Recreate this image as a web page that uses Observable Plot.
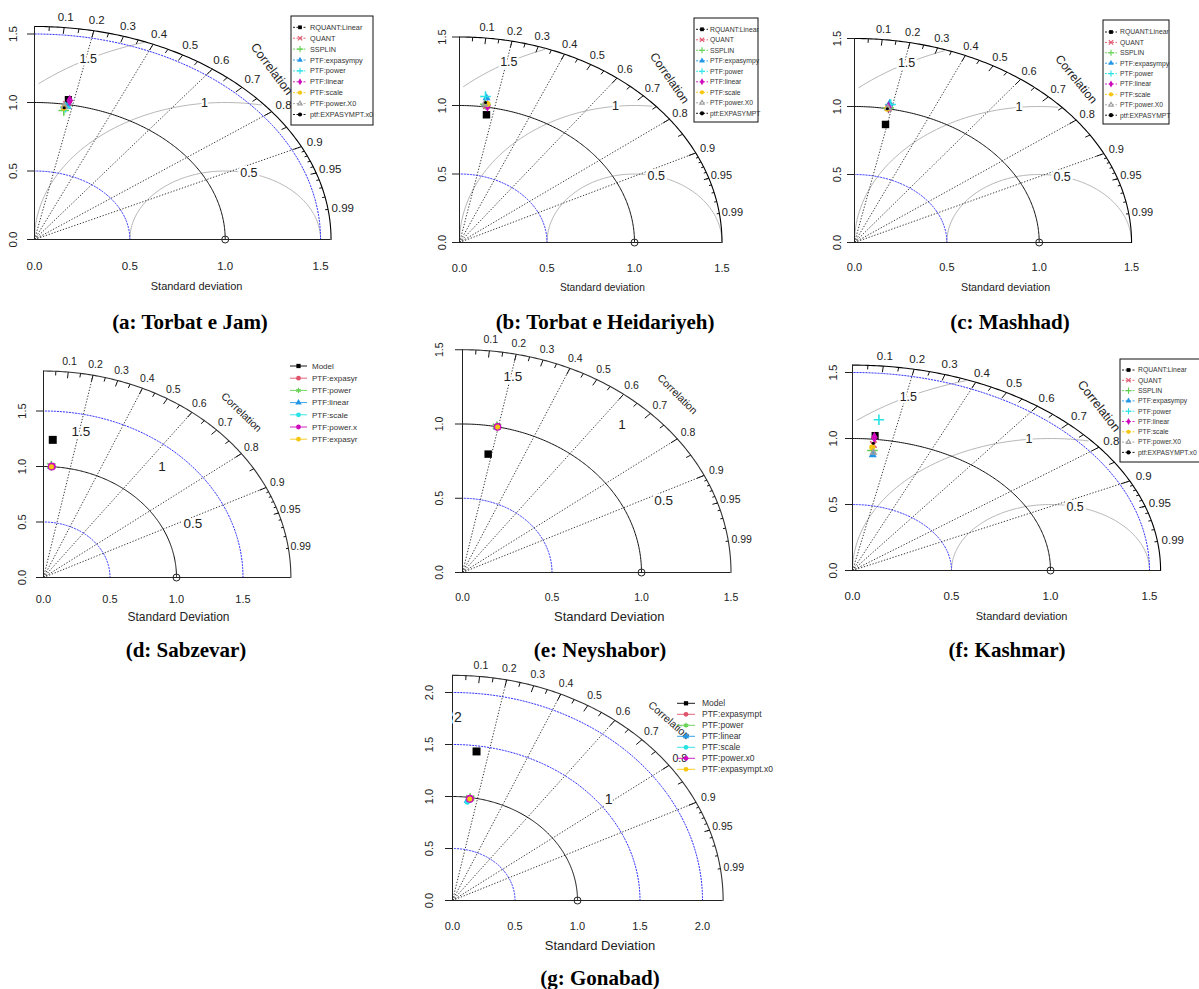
<!DOCTYPE html>
<html><head><meta charset="utf-8">
<script src="https://cdn.jsdelivr.net/npm/d3@7"></script>
<script src="https://cdn.jsdelivr.net/npm/@observablehq/plot@0.6"></script>
<style>
body{margin:0;background:#fff}
#fig{position:relative;width:1199px;height:989px;overflow:hidden;font-family:"Liberation Sans",Arial,sans-serif;background:#fff}
.panel{position:absolute}
.cap{position:absolute;font-family:"Liberation Serif","Times New Roman",serif;font-weight:bold;font-size:21px;transform:translate(-50%,-50%);white-space:nowrap;color:#000}
</style>
</head><body><div id="fig"></div>
<script>
// ---------------- data ----------------
const modelsA = ["RQUANT:Linear","QUANT","SSPLIN","PTF:expasympy","PTF:power","PTF:linear","PTF:scale","PTF:power.X0","ptf:EXPASYMPT.x0"];
const sdA  = [1.037, 1.000, 0.954, 0.986, 0.980, 1.032, 0.973, 0.984, 0.975];
const corA = [0.171, 0.168, 0.161, 0.174, 0.166, 0.179, 0.158, 0.160, 0.160];

const modelsB = ["RQUANT:Linear","QUANT","SSPLIN","PTF:expasympy","PTF:power","PTF:linear","PTF:scale","PTF:power.X0","ptf:EXPASYMPT"];
const sdB  = [0.945, 1.010, 1.020, 1.067, 1.076, 1.010, 1.024, 1.020, 1.033];
const corB = [0.163, 0.152, 0.145, 0.145, 0.138, 0.158, 0.156, 0.140, 0.144];

const modelsC = ["RQUANT:Linear","QUANT","SSPLIN","PTF:expasympy","PTF:power","PTF:linear","PTF:scale","PTF:power.X0","ptf:EXPASYMPT"];
const sdC  = [0.884, 1.010, 1.007, 1.040, 1.033, 1.010, 0.999, 1.005, 1.000];
const corC = [0.190, 0.182, 0.183, 0.183, 0.189, 0.182, 0.177, 0.180, 0.178];

const modelsD = ["Model","PTF:expasyr","PTF:power","PTF:linear","PTF:scale","PTF:power.x","PTF:expasyr"];
const sdD  = [1.242, 1.002, 1.008, 1.000, 1.000, 1.002, 1.000];
const corD = [0.056, 0.060, 0.058, 0.060, 0.060, 0.062, 0.060];

const modelsE = ["Model","PTF:expasyr","PTF:power","PTF:linear","PTF:scale","PTF:power.x","PTF:expasyr"];
const sdE  = [0.810, 1.000, 1.003, 0.998, 0.998, 1.000, 1.000];
const corE = [0.177, 0.194, 0.192, 0.194, 0.194, 0.196, 0.196];

const modelsF = ["RQUANT:Linear","QUANT","SSPLIN","PTF:expasympy","PTF:power","PTF:linear","PTF:scale","PTF:power.X0","ptf:EXPASYMPT.x0"];
const sdF  = [1.029, 0.960, 0.915, 0.882, 1.150, 1.014, 0.939, 0.900, 0.970];
const corF = [0.111, 0.110, 0.110, 0.116, 0.116, 0.109, 0.106, 0.117, 0.108];

const modelsG = ["Model","PTF:expasympt","PTF:power","PTF:linear","PTF:scale","PTF:power.x0","PTF:expasympt.x0"];
const sdG  = [1.446, 0.988, 0.995, 0.970, 0.952, 0.988, 0.985];
const corG = [0.133, 0.140, 0.142, 0.125, 0.124, 0.140, 0.140];

const colors9  = ["#000000","#DF536B","#61D04F","#2297E6","#28E2E5","#CD0BBC","#F5C710","#9E9E9E","#000000"];
const symbols9 = ["square","times","plus","triangle","plus","diamond","circle","triangle2","circle"];
const colors7  = ["#000000","#DF536B","#61D04F","#2297E6","#28E2E5","#CD0BBC","#F5C710"];
const symbols7 = ["square","circle","asterisk","triangle","circle","circle","circle"];

const corLines   = [0.2, 0.4, 0.6, 0.8, 0.9];
const corLabels  = [0.1, 0.2, 0.3, 0.4, 0.5, 0.6, 0.7, 0.8, 0.9, 0.95, 0.99];
const bigTicks   = [0.1, 0.2, 0.3, 0.4, 0.5, 0.6, 0.7, 0.8, 0.9];
const medTicks   = [0.05, 0.15, 0.25, 0.35, 0.45, 0.55, 0.65, 0.75, 0.85, 0.95];
const smlTicks   = [0.91, 0.92, 0.93, 0.94, 0.95, 0.96, 0.97, 0.98, 0.99];
const sdTicks15  = [0, 0.5, 1, 1.5];
const sdTicks20  = [0, 0.5, 1, 1.5, 2];
const gamma3     = [0.5, 1, 1.5];
const gamma2     = [1, 2];
const refSd      = 1;

// ---------------- layout ----------------
const panels = [
 {id:"a", models:modelsA, sd:sdA, cor:corA, colors:colors9, symbols:symbols9, sizes:[4,3,3.5,3,3.5,3.5,3,2.5,1.5],
  L:0,T:0,W:390,H:300, ox:34, oy:239, sx:190.7, sy:137, maxsd:1.555, ticks:sdTicks15, blue:[0.5,1.5], gamma:gamma3, gammaLines:true,
  tickFs:11.5, tickDy:27, tickDx:-21, corFs:11.5, corAngle:53, corWordFs:12.5, gFs:12.5, xlab:"Standard deviation", xlabX:0.85, xlabDy:47, xlabFs:11, outer:"#000",
  legend:{box:[291,16,373,125], y0:27.3, dy:10.9, lx0:293, lx1:307, tx:310, fs:7.3, dashed:true},
  cap:"(a: Torbat e Jam)", capX:190, capY:322},
 {id:"b", models:modelsB, sd:sdB, cor:corB, colors:colors9, symbols:symbols9, sizes:[4.2,3,3.5,3,3.5,3.5,3,2.5,1.5],
  L:400,T:0,W:390,H:300, ox:459, oy:242, sx:175, sy:137, maxsd:1.5, ticks:sdTicks15, blue:[0.5], gamma:gamma3, gammaLines:true,
  tickFs:11, tickDy:26, tickDx:-17, corFs:11, corAngle:55, corWordFs:12, gFs:12.5, xlab:"Standard deviation", xlabX:0.817, xlabDy:45, xlabFs:10.2, outer:"#000",
  legend:{box:[694,18,758,122], y0:29.3, dy:10.5, lx0:696, lx1:708, tx:710, fs:6.8, dashed:true},
  cap:"(b: Torbat e Heidariyeh)", capX:605, capY:322},
 {id:"c", models:modelsC, sd:sdC, cor:corC, colors:colors9, symbols:symbols9, sizes:[4.2,3,3.5,3,3.5,3.5,3,2.5,1.5],
  L:790,T:0,W:409,H:300, ox:854, oy:242, sx:184.7, sy:136, maxsd:1.5, ticks:sdTicks15, blue:[0.5], gamma:gamma3, gammaLines:true,
  tickFs:11, tickDy:25, tickDx:-17, corFs:11, corAngle:51, corWordFs:12, gFs:12.5, xlab:"Standard deviation", xlabX:0.818, xlabDy:45, xlabFs:10.7, outer:"#000",
  legend:{box:[1103,20,1169,124], y0:32, dy:10.4, lx0:1105, lx1:1117, tx:1120, fs:6.8, dashed:true},
  cap:"(c: Mashhad)", capX:1010, capY:322},
 {id:"d", models:modelsD, sd:sdD, cor:corD, colors:colors7, symbols:symbols7, sizes:[4.5,3.5,4.5,3,2,4,2.5],
  L:0,T:330,W:400,H:300, ox:43, oy:577, sx:133, sy:111, maxsd:1.86, ticks:sdTicks15, blue:[0.5,1.5], gamma:gamma3, gammaLines:false,
  tickFs:11, tickDy:22, tickDx:-21, corFs:10.5, corAngle:44, corWordFs:10.5, gFs:13.5, xlab:"Standard Deviation", xlabX:1.015, xlabDy:40, xlabFs:12, outer:"#333",
  legend:{box:null, y0:366, dy:12.2, lx0:290, lx1:307, tx:312, fs:8, dashed:false},
  cap:"(d: Sabzevar)", capX:186, capY:650},
 {id:"e", models:modelsE, sd:sdE, cor:corE, colors:colors7, symbols:symbols7, sizes:[4.2,3.5,4.5,3,2,3.8,2.5],
  L:400,T:330,W:400,H:300, ox:462, oy:572, sx:179, sy:148.5, maxsd:1.5, ticks:sdTicks15, blue:[0.5], gamma:gamma3, gammaLines:false,
  tickFs:10.5, tickDy:25, tickDx:-23, corFs:10.5, corAngle:45, corWordFs:10.5, gFs:13.5, xlab:"Standard Deviation", xlabX:0.82, xlabDy:44, xlabFs:13, outer:"#333",
  legend:null, cap:"(e: Neyshabor)", capX:600, capY:650},
 {id:"f", models:modelsF, sd:sdF, cor:corF, colors:colors9, symbols:symbols9, sizes:[4,3,3.5,3,3.5,3.5,3,2.5,1.5],
  L:800,T:330,W:399,H:300, ox:852, oy:570, sx:198, sy:132, maxsd:1.556, ticks:sdTicks15, blue:[0.5,1.5], gamma:gamma3, gammaLines:true,
  tickFs:11.5, tickDy:26, tickDx:-19, corFs:11.5, corAngle:52, corWordFs:12.5, gFs:12.5, xlab:"Standard deviation", xlabX:0.854, xlabDy:46, xlabFs:11, outer:"#000",
  legend:{box:[1120,359,1210,462], y0:370, dy:10.3, lx0:1122, lx1:1135, tx:1138, fs:6.8, dashed:true},
  cap:"(f: Kashmar)", capX:1007, capY:650},
 {id:"g", models:modelsG, sd:sdG, cor:corG, colors:colors7, symbols:symbols7, sizes:[4.5,3.5,4.5,3,2.5,4,2.5],
  L:400,T:660,W:400,H:300, ox:452, oy:900, sx:125, sy:104, maxsd:2.165, ticks:sdTicks20, blue:[0.5,1.5,2], gamma:gamma2, gammaLines:false,
  tickFs:11, tickDy:26, tickDx:-23, corFs:10.5, corAngle:41, corWordFs:10.5, gFs:14, xlab:"Standard Deviation", xlabX:1.18, xlabDy:45, xlabFs:13, outer:"#333",
  legend:{box:null, y0:703.3, dy:11, lx0:677, lx1:695, tx:702, fs:8.5, dashed:false},
  cap:"(g: Gonabad)", capX:600, capY:978}
];

// ---------------- helpers ----------------
const fmt1 = d3.format(".1f");
const strokeSyms = new Set(["plus","times","asterisk","triangle2"]);
const d3sym = {square:d3.symbolSquare, circle:d3.symbolCircle, triangle:d3.symbolTriangle, diamond:d3.symbolDiamond,
  plus:d3.symbolPlus, times:d3.symbolTimes, asterisk:d3.symbolAsterisk, triangle2:d3.symbolTriangle2, cross:d3.symbolCross};
const px = (c, r) => r * c;
const py = (c, r) => r * Math.sqrt(1 - c * c);

function arcPts(r, id, n = 160) {
  return d3.range(n + 1).map(i => { const t = i / n * Math.PI / 2; return {id, x: r * Math.cos(t), y: r * Math.sin(t)}; });
}
// plotrix-style centred RMS contour around the reference point
function gammaCurve(g, maxsd) {
  const ts = d3.range(0, Math.PI, 0.03);
  const xs = ts.map(t => Math.cos(t) * g + refSd), ys = ts.map(t => Math.sin(t) * g);
  let firstNeg = xs.findIndex(x => x < 0);
  let lastOut = -1; xs.forEach((x, i) => { if (x * x + ys[i] * ys[i] > maxsd * maxsd) lastOut = i; });
  const s = lastOut >= 0 ? lastOut + 1 : 0, e = firstNeg >= 0 ? firstNeg - 1 : xs.length - 1;
  const pts = []; for (let i = s; i <= e; i++) pts.push({id: g, x: xs[i], y: ys[i]});
  return {pts, xs, ys};
}

const fig = document.getElementById("fig");

for (const p of panels) {
  const mL = p.ox - p.L, mB = p.T + p.H - p.oy;
  const xmax = (p.W - mL) / p.sx, ymax = (p.oy - p.T) / p.sy;
  const ng = p.gamma.length;
  const gammaPts = [], gammaLab = [];
  p.gamma.forEach((g, k) => {
    const {pts, xs, ys} = gammaCurve(g, p.maxsd);
    gammaPts.push(...pts);
    const lp = Math.floor(ng > 1 ? 45 + k * (70 - 45) / (ng - 1) : 45) - 1;
    if (xs[lp] > 0) gammaLab.push({x: xs[lp], y: ys[lp], t: String(g)});
  });
  const bluePts = p.blue.flatMap(r => arcPts(r, r));
  const tickSegs = [
    ...bigTicks.map(c => ({c, k: 0.97})),
    ...medTicks.map(c => ({c, k: 0.98})),
    ...smlTicks.map(c => ({c, k: 0.99}))
  ];
  const M = p.maxsd;
  const marks = [
    p.gammaLines ? Plot.line(gammaPts, {x: "x", y: "y", z: "id", stroke: "#b8b8b8", strokeWidth: 1}) : null,
    Plot.line(bluePts, {x: "x", y: "y", z: "id", stroke: "#3030ff", strokeWidth: 1, strokeDasharray: "1.3,1.7"}),
    Plot.link(corLines, {x1: 0, y1: 0, x2: c => px(c, M), y2: c => py(c, M), stroke: "#222", strokeWidth: 0.9, strokeDasharray: "1.3,1.7"}),
    Plot.line(arcPts(refSd, "ref"), {x: "x", y: "y", stroke: "#111", strokeWidth: 1}),
    Plot.line(arcPts(M, "outer"), {x: "x", y: "y", stroke: p.outer, strokeWidth: 1.1}),
    Plot.ruleX([0], {y1: 0, y2: M, stroke: "#222"}),
    Plot.ruleY([0], {x1: 0, x2: M, stroke: "#222"}),
    Plot.axisY({ticks: p.ticks, tickSize: 7, tickFormat: () => "", label: null, stroke: "#222"}),
    Plot.text(p.ticks, {x: 0, y: d => d, text: fmt1, rotate: -90, dx: p.tickDx, fontSize: p.tickFs, fill: "#222"}),
    Plot.text(p.ticks, {x: d => d, y: 0, text: fmt1, dy: p.tickDy, fontSize: p.tickFs, fill: "#222"}),
    Plot.link(tickSegs, {x1: d => px(d.c, M), y1: d => py(d.c, M), x2: d => px(d.c, M * d.k), y2: d => py(d.c, M * d.k), stroke: "#111", strokeWidth: 1}),
    Plot.text(corLabels, {x: c => px(c, 1.05 * M), y: c => py(c, 1.05 * M), text: c => String(c), fontSize: p.corFs, fill: "#222"}),
    Plot.text(["Correlation"], {x: 0.8 * M, y: 0.8 * M, text: d => d, rotate: p.corAngle, fontSize: p.corWordFs, fill: "#222"}),
    Plot.text(gammaLab, {x: "x", y: "y", text: "t", fontSize: p.gFs, fill: "#222", stroke: "white", strokeWidth: 5, paintOrder: "stroke"}),
    Plot.dot([refSd], {x: d => d, y: 0, r: 3.5, stroke: "#222", fill: "none", strokeWidth: 1}),
    ...p.sd.map((s, i) => {
      const st = strokeSyms.has(p.symbols[i]);
      return Plot.dot([i], {x: j => px(p.cor[j], p.sd[j]), y: j => py(p.cor[j], p.sd[j]), symbol: p.symbols[i], r: p.sizes[i],
        fill: st ? "none" : p.colors[i], stroke: st ? p.colors[i] : "none", strokeWidth: 1.6});
    }),
    Plot.text([p.xlab], {x: p.xlabX, y: 0, text: d => d, dy: p.xlabDy, fontSize: p.xlabFs, fill: "#222"})
  ].filter(Boolean);

  const svg = Plot.plot({
    width: p.W, height: p.H,
    marginLeft: mL, marginRight: 0, marginTop: 0, marginBottom: mB,
    x: {domain: [0, xmax], axis: null},
    y: {domain: [0, ymax], axis: null},
    style: {background: "transparent", overflow: "visible", fontFamily: "'Liberation Sans', Arial, sans-serif"},
    marks
  });
  svg.classList.add("panel");
  svg.style.left = p.L + "px"; svg.style.top = p.T + "px";
  fig.appendChild(svg);

  const cap = document.createElement("div");
  cap.className = "cap"; cap.textContent = p.cap;
  cap.style.left = p.capX + "px"; cap.style.top = p.capY + "px";
  fig.appendChild(cap);
}

// ---------------- legends ----------------
const lg = d3.select(fig).append("svg").attr("width", 1199).attr("height", 989)
  .style("position", "absolute").style("left", 0).style("top", 0).style("overflow", "hidden");
for (const p of panels) {
  const L = p.legend; if (!L) continue;
  if (L.box) lg.append("rect").attr("x", L.box[0]).attr("y", L.box[1]).attr("width", L.box[2] - L.box[0]).attr("height", L.box[3] - L.box[1])
    .attr("fill", "white").attr("stroke", "#111").attr("stroke-width", 1);
  p.models.forEach((m, i) => {
    const y = L.y0 + i * L.dy, col = p.colors[i], st = strokeSyms.has(p.symbols[i]);
    lg.append("line").attr("x1", L.lx0).attr("x2", L.lx1).attr("y1", y).attr("y2", y)
      .attr("stroke", col).attr("stroke-width", 0.9).attr("stroke-dasharray", L.dashed ? "2,1.5" : null);
    lg.append("path").attr("d", d3.symbol(d3sym[p.symbols[i]], L.dashed ? 14 : 18)())
      .attr("transform", `translate(${(L.lx0 + L.lx1) / 2},${y})`)
      .attr("fill", st ? "none" : col).attr("stroke", st ? col : "none").attr("stroke-width", 1.1);
    lg.append("text").attr("x", L.tx).attr("y", y).attr("dy", "0.35em").attr("font-size", L.fs)
      .attr("fill", "#333").attr("font-family", "'Liberation Sans', Arial, sans-serif").text(m);
  });
}
</script>
</body></html>
